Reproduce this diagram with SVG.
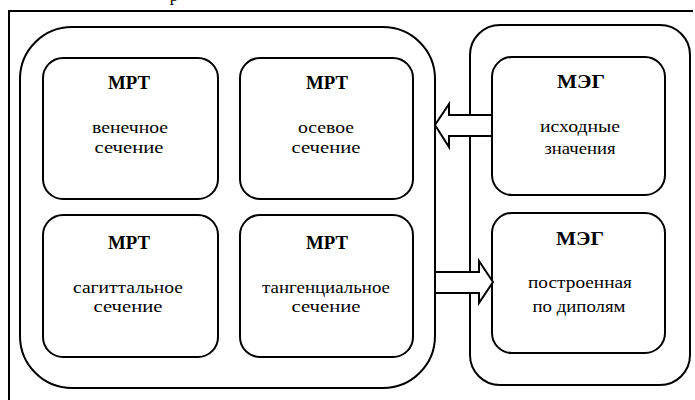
<svg xmlns="http://www.w3.org/2000/svg" width="695" height="400" viewBox="0 0 695 400">
<style>
.box{fill:#fff;stroke:#000;stroke-width:2}
.cont{fill:none;stroke:#000;stroke-width:2}
.h{font-size:18px;font-weight:bold}
.b{font-size:17px}
.arr{fill:#fff;stroke:#000;stroke-width:2;stroke-linejoin:miter}
</style>
<rect width="695" height="400" fill="#fff"/>
<path d="M9,400 V11 H693" fill="none" stroke="#000" stroke-width="2"/>
<text x="174" y="1" font-size="17" font-family="'Liberation Serif', serif" text-anchor="middle">р</text>
<g id="group-mrt"><rect class="cont" x="20" y="27" width="415" height="361" rx="52"/></g>
<g id="group-meg"><rect class="cont" x="470" y="25" width="220" height="360" rx="30"/></g>
<g font-family="'Liberation Serif', serif" text-anchor="middle" fill="#000">
<g id="mrt-coronal">
<rect class="box" x="43" y="58" width="175" height="141" rx="20"/>
<text class="h" x="129" y="89" textLength="42" lengthAdjust="spacingAndGlyphs">МРТ</text>
<text class="b" x="130" y="133" textLength="76" lengthAdjust="spacingAndGlyphs">венечное</text>
<text class="b" x="129" y="153" textLength="69" lengthAdjust="spacingAndGlyphs">сечение</text>
</g>
<g id="mrt-axial">
<rect class="box" x="240" y="58" width="173" height="141" rx="20"/>
<text class="h" x="327" y="89" textLength="42" lengthAdjust="spacingAndGlyphs">МРТ</text>
<text class="b" x="326" y="133" textLength="56" lengthAdjust="spacingAndGlyphs">осевое</text>
<text class="b" x="326" y="153" textLength="69" lengthAdjust="spacingAndGlyphs">сечение</text>
</g>
<g id="mrt-sagittal">
<rect class="box" x="43" y="215" width="175" height="142" rx="20"/>
<text class="h" x="129" y="249" textLength="42" lengthAdjust="spacingAndGlyphs">МРТ</text>
<text class="b" x="128" y="293" textLength="110" lengthAdjust="spacingAndGlyphs">сагиттальное</text>
<text class="b" x="128" y="312" textLength="69" lengthAdjust="spacingAndGlyphs">сечение</text>
</g>
<g id="mrt-tangential">
<rect class="box" x="240" y="215" width="173" height="142" rx="20"/>
<text class="h" x="327" y="249" textLength="42" lengthAdjust="spacingAndGlyphs">МРТ</text>
<text class="b" x="326" y="293" textLength="128" lengthAdjust="spacingAndGlyphs">тангенциальное</text>
<text class="b" x="326" y="312" textLength="69" lengthAdjust="spacingAndGlyphs">сечение</text>
</g>
<g id="meg-initial">
<rect class="box" x="492" y="57" width="173" height="138" rx="20"/>
<text class="h" x="581" y="88" textLength="48" lengthAdjust="spacingAndGlyphs">МЭГ</text>
<text class="b" x="580" y="132" textLength="80" lengthAdjust="spacingAndGlyphs">исходные</text>
<text class="b" x="580" y="154" textLength="71" lengthAdjust="spacingAndGlyphs">значения</text>
</g>
<g id="meg-dipoles">
<rect class="box" x="492" y="213" width="173" height="140" rx="20"/>
<text class="h" x="580" y="245" textLength="48" lengthAdjust="spacingAndGlyphs">МЭГ</text>
<text class="b" x="580" y="288" textLength="104" lengthAdjust="spacingAndGlyphs">построенная</text>
<text class="b" x="579" y="312" textLength="93" lengthAdjust="spacingAndGlyphs">по диполям</text>
</g>
</g>
<g id="connectors">
<polygon class="arr" points="492,115 449,115 449,104 435,125 449,147 449,136 492,136"/>
<polygon class="arr" points="435,272 479,272 479,261 493,282 479,303 479,293 435,293"/>
</g>
</svg>
